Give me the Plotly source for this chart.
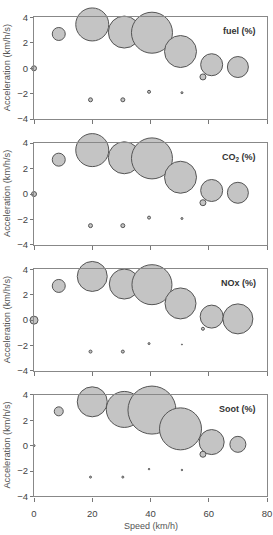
import plotly.graph_objects as go

# ---- data ----
speed = [0, 8.5, 20, 31, 40.5, 50.3, 61, 70, 58, 19.4, 30.5, 39.5, 50.8]
accel = [0, 2.7, 3.45, 2.85, 2.8, 1.32, 0.28, 0.1, -0.68, -2.48, -2.48, -1.85, -1.92]

panel_labels = ["fuel (%)", "CO<sub>2</sub> (%)", "NOx (%)", "Soot (%)"]
fuel_size = [5, 13, 33, 32, 41, 32, 22, 21, 6, 4, 4, 3, 2]
co2_size = [5, 13, 33, 32, 41, 32, 22, 21, 6, 4, 4, 3, 2]
nox_size = [8, 13, 30, 30, 40, 31, 23, 30, 3, 3, 3, 2, 1]
soot_size = [2, 9, 30, 36, 48, 42, 25, 16, 6, 2, 2, 1.5, 1.5]
sizes = [fuel_size, co2_size, nox_size, soot_size]

x_ticks = [0, 20, 40, 60, 80]
y_ticks = [-4, -2, 0, 2, 4]

W, H = 273, 535
# panel top/bottom pixel positions
panel_px = [(11.7, 115.5), (140, 244), (269, 372.5), (397, 500.7)]

fig = go.Figure()
font_family = "Liberation Sans, Arial, sans-serif"

for i, (lab, sz) in enumerate(zip(panel_labels, sizes)):
    n = i + 1
    xa = "x" if n == 1 else f"x{n}"
    ya = "y" if n == 1 else f"y{n}"
    fig.add_trace(go.Scatter(
        x=speed, y=accel, mode="markers", xaxis=xa, yaxis=ya,
        cliponaxis=False, showlegend=False,
        marker=dict(size=sz, sizemode="diameter", color="#c4c4c4",
                    opacity=1, line=dict(color="#555555", width=1)),
    ))
    top, bot = panel_px[i]
    dom = [1 - bot / H, 1 - top / H]
    xkey = "xaxis" if n == 1 else f"xaxis{n}"
    ykey = "yaxis" if n == 1 else f"yaxis{n}"
    fig.layout[xkey] = dict(
        domain=[0, 1], range=[0, 80], anchor=ya, tickvals=x_ticks,
        showticklabels=(n == 4), ticks="outside", ticklen=4, tickcolor="#777",
        ticklabelstandoff=4,
        showline=True, linecolor="#888", linewidth=1.2, mirror=True,
        showgrid=False, zeroline=False,
        tickfont=dict(size=9.5, color="#444", family=font_family),
    )
    fig.layout[ykey] = dict(
        domain=dom, range=[-4, 4], anchor=xa, tickvals=y_ticks,
        ticks="outside", ticklen=3, tickcolor="#777",
        showline=True, linecolor="#888", linewidth=1.2, mirror=True,
        showgrid=False, zeroline=False,
        tickfont=dict(size=9.5, color="#444", family=font_family),
    )
    fig.add_annotation(
        text=f"<b>{lab}</b>", xref=f"{xa} domain", yref=ya,
        x=0.96, y=2.9, xanchor="right", yanchor="middle", showarrow=False,
        font=dict(size=9, color="#333", family=font_family),
    )
    fig.add_annotation(
        text="Acceleration (km/h/s)", xref="paper", yref="paper",
        x=0, xshift=-27, y=(dom[0] + dom[1]) / 2, textangle=-90,
        xanchor="center", yanchor="middle", showarrow=False,
        font=dict(size=9.3, color="#555", family=font_family),
    )

fig.add_annotation(
    text="Speed (km/h)", xref="paper", yref="paper", x=0.5, y=0,
    yshift=4, xanchor="center", yanchor="middle", showarrow=False,
    font=dict(size=9, color="#555", family=font_family),
)

fig.update_layout(
    width=W, height=H,
    margin=dict(l=34, r=6, t=0, b=0),
    paper_bgcolor="white", plot_bgcolor="white",
)

fig.write_html("out.html")
